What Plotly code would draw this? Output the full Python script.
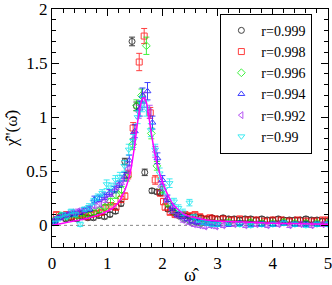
import plotly.graph_objects as go

# ---------------- data ----------------
fit_x = [0, 0.2, 0.4, 0.6, 0.8, 1.0, 1.1, 1.2, 1.3, 1.4, 1.45, 1.5, 1.55, 1.6, 1.65, 1.7, 1.75,
         1.8, 1.85, 1.9, 2.0, 2.1, 2.2, 2.3, 2.4, 2.6, 2.8, 3.0, 3.5, 4.0, 4.5, 5.0]
fit_y = [0, 0.02, 0.04, 0.06, 0.09, 0.13, 0.16, 0.21, 0.30, 0.45, 0.58, 0.75, 0.95, 1.10, 1.18,
         1.15, 1.02, 0.85, 0.70, 0.58, 0.40, 0.28, 0.19, 0.14, 0.10, 0.07, 0.05, 0.04, 0.03,
         0.02, 0.015, 0.01]

x_999 = [0.05, 0.15, 0.25, 0.35, 0.45, 0.55, 0.65, 0.75, 0.85, 0.95,
         1.05, 1.15, 1.25, 1.32, 1.45, 1.53, 1.68, 1.81, 1.90, 1.96,
         2.1, 2.2, 2.3, 2.4, 2.5, 2.6, 2.7, 2.8, 2.9, 3.0,
         3.1, 3.2, 3.3, 3.4, 3.5, 3.6, 3.7, 3.8, 3.9, 4.0,
         4.1, 4.2, 4.3, 4.4, 4.5, 4.6, 4.7, 4.8, 4.9, 5.0]
y_999 = [0.03, 0.08, 0.06, 0.07, 0.06, 0.08, 0.07, 0.07, 0.09, 0.08,
         0.10, 0.13, 0.20, 0.59, 1.70, 1.10, 0.49, 0.32, 0.31, 0.30,
         0.15, 0.12, 0.10, 0.09, 0.08, 0.08, 0.07, 0.06, 0.07, 0.06,
         0.07, 0.06, 0.06, 0.05, 0.06, 0.06, 0.05, 0.06, 0.05, 0.05,
         0.06, 0.05, 0.05, 0.05, 0.05, 0.06, 0.05, 0.05, 0.04, 0.04]
e_999 = [0.02, 0.02, 0.02, 0.02, 0.02, 0.02, 0.02, 0.02, 0.02, 0.02,
         0.02, 0.02, 0.02, 0.03, 0.04, 0.04, 0.03, 0.02, 0.02, 0.02,
         0.02, 0.02, 0.02, 0.02, 0.02, 0.02, 0.02, 0.02, 0.02, 0.02,
         0.02, 0.02, 0.02, 0.02, 0.02, 0.02, 0.02, 0.02, 0.02, 0.02,
         0.02, 0.02, 0.02, 0.02, 0.02, 0.02, 0.02, 0.02, 0.02, 0.02]

x_998 = [0.08, 0.17, 0.26, 0.35, 0.44, 0.53, 0.62, 0.71, 0.80, 0.89,
         0.98, 1.07, 1.16, 1.25, 1.32, 1.38, 1.47, 1.58, 1.67, 1.78,
         1.87, 1.96, 2.02, 2.05, 2.14, 2.23, 2.32, 2.41, 2.50, 2.59,
         2.68, 2.77, 2.86, 2.95, 3.1, 3.25, 3.4, 3.55, 3.7, 3.85,
         4.0, 4.15, 4.3, 4.45, 4.6, 4.75, 4.9, 5.0]
y_998 = [0.10, 0.09, 0.10, 0.08, 0.09, 0.10, 0.08, 0.10, 0.11, 0.12,
         0.16, 0.18, 0.17, 0.24, 0.27, 0.47, 0.90, 1.51, 1.75, 1.04,
         0.42, 0.30, 0.22, 0.17, 0.12, 0.10, 0.09, 0.10, 0.09, 0.10,
         0.08, 0.06, 0.07, 0.06, 0.06, 0.05, 0.06, 0.05, 0.05, 0.04,
         0.05, 0.05, 0.04, 0.05, 0.04, 0.04, 0.05, 0.05]
e_998 = [0.02, 0.02, 0.02, 0.02, 0.02, 0.02, 0.02, 0.02, 0.02, 0.02,
         0.03, 0.03, 0.03, 0.03, 0.03, 0.04, 0.05, 0.08, 0.07, 0.05,
         0.04, 0.03, 0.03, 0.03, 0.02, 0.02, 0.02, 0.02, 0.02, 0.02,
         0.02, 0.02, 0.02, 0.02, 0.02, 0.02, 0.02, 0.02, 0.02, 0.02,
         0.02, 0.02, 0.02, 0.02, 0.02, 0.02, 0.02, 0.02]

x_996 = [0.06, 0.16, 0.26, 0.36, 0.46, 0.56, 0.66, 0.76, 0.86, 0.96,
         1.06, 1.16, 1.26, 1.36, 1.46, 1.53, 1.62, 1.71, 1.80, 1.90,
         2.0, 2.1, 2.2, 2.3, 2.4, 2.5, 2.6, 2.7, 2.8, 2.9,
         3.0, 3.2, 3.4, 3.6, 3.8, 4.0, 4.2, 4.4, 4.6, 4.8, 5.0]
y_996 = [0.05, 0.09, 0.08, 0.10, 0.09, 0.11, 0.10, 0.12, 0.14, 0.17,
         0.22, 0.28, 0.33, 0.45, 0.75, 1.11, 1.20, 1.66, 0.85, 0.55,
         0.33, 0.20, 0.13, 0.09, 0.06, 0.04, 0.03, 0.02, 0.03, 0.02,
         0.02, 0.03, 0.02, 0.03, 0.02, 0.02, 0.03, 0.02, 0.02, 0.02, 0.02]
e_996 = [0.02, 0.02, 0.02, 0.02, 0.02, 0.02, 0.02, 0.02, 0.02, 0.02,
         0.03, 0.03, 0.03, 0.04, 0.05, 0.05, 0.06, 0.08, 0.05, 0.04,
         0.03, 0.02, 0.02, 0.02, 0.02, 0.02, 0.02, 0.02, 0.02, 0.02,
         0.02, 0.02, 0.02, 0.02, 0.02, 0.02, 0.02, 0.02, 0.02, 0.02, 0.02]

x_994 = [0.05, 0.14, 0.23, 0.32, 0.41, 0.50, 0.59, 0.68, 0.77, 0.86,
         0.95, 1.04, 1.13, 1.22, 1.31, 1.40, 1.50, 1.59, 1.64, 1.73,
         1.82, 1.91, 2.0, 2.09, 2.18, 2.27, 2.36, 2.45, 2.54, 2.63,
         2.72, 2.81, 2.9, 3.0, 3.2, 3.4, 3.6, 3.8, 4.0, 4.2,
         4.4, 4.6, 4.8, 5.0]
y_994 = [0.04, 0.07, 0.09, 0.10, 0.11, 0.12, 0.14, 0.15, 0.24, 0.25,
         0.27, 0.30, 0.33, 0.38, 0.45, 0.60, 0.87, 1.08, 1.20, 1.24,
         0.95, 0.62, 0.42, 0.25, 0.17, 0.10, 0.08, 0.06, 0.04, 0.03,
         0.03, 0.02, 0.02, 0.01, 0.01, 0.02, 0.01, 0.01, 0.01, 0.02,
         0.01, 0.01, 0.01, 0.01]
e_994 = [0.02, 0.02, 0.02, 0.02, 0.02, 0.02, 0.02, 0.02, 0.03, 0.03,
         0.03, 0.03, 0.03, 0.03, 0.04, 0.05, 0.06, 0.07, 0.07, 0.08,
         0.06, 0.05, 0.04, 0.03, 0.03, 0.02, 0.02, 0.02, 0.02, 0.02,
         0.02, 0.02, 0.02, 0.02, 0.02, 0.02, 0.02, 0.02, 0.02, 0.02,
         0.02, 0.02, 0.02, 0.02]

x_992 = [0.07, 0.17, 0.27, 0.37, 0.47, 0.57, 0.67, 0.77, 0.87, 0.97,
         1.07, 1.17, 1.27, 1.37, 1.47, 1.57, 1.67, 1.77, 1.87, 1.97,
         2.07, 2.17, 2.27, 2.37, 2.47, 2.57, 2.67, 2.77, 2.87, 2.97,
         3.1, 3.3, 3.5, 3.7, 3.9, 4.1, 4.3, 4.5, 4.7, 4.9, 5.0]
y_992 = [0.06, 0.08, 0.10, 0.12, 0.13, 0.14, 0.16, 0.18, 0.20, 0.24,
         0.30, 0.36, 0.42, 0.52, 0.80, 1.05, 1.16, 1.05, 0.68, 0.36,
         0.24, 0.14, 0.09, 0.05, 0.03, 0.01, 0.00, -0.01, 0.00, -0.01,
         0.00, 0.01, 0.00, 0.01, 0.00, 0.01, 0.00, 0.01, 0.00, 0.01, 0.01]
e_992 = [0.02, 0.02, 0.02, 0.02, 0.02, 0.02, 0.02, 0.02, 0.03, 0.03,
         0.03, 0.03, 0.04, 0.04, 0.05, 0.06, 0.07, 0.06, 0.05, 0.04,
         0.03, 0.03, 0.02, 0.02, 0.02, 0.02, 0.02, 0.02, 0.02, 0.02,
         0.02, 0.02, 0.02, 0.02, 0.02, 0.02, 0.02, 0.02, 0.02, 0.02, 0.02]

x_990 = [0.03, 0.11, 0.19, 0.27, 0.35, 0.43, 0.51, 0.59, 0.67, 0.75,
         0.83, 0.91, 0.99, 1.07, 1.15, 1.23, 1.31, 1.39, 1.47, 1.55,
         1.63, 1.71, 1.79, 1.87, 1.95, 2.03, 2.13, 2.21, 2.29, 2.37,
         2.49, 2.57, 2.65, 2.73, 2.81, 2.9, 3.0, 3.2, 3.4, 3.6,
         3.8, 4.0, 4.2, 4.4, 4.6, 4.8, 5.0]
y_990 = [0.02, 0.06, 0.10, 0.08, 0.13, 0.10, 0.01, 0.15, 0.17, 0.22,
         0.26, 0.30, 0.38, 0.35, 0.42, 0.45, 0.55, 0.70, 0.78, 1.00,
         1.12, 1.08, 0.88, 0.70, 0.48, 0.33, 0.39, 0.22, 0.16, 0.12,
         0.21, 0.08, 0.05, 0.03, 0.02, 0.01, 0.01, 0.02, 0.01, 0.00,
         0.01, 0.01, 0.02, 0.01, 0.00, 0.01, 0.01]
e_990 = [0.02, 0.02, 0.02, 0.02, 0.02, 0.02, 0.02, 0.02, 0.03, 0.03,
         0.03, 0.03, 0.04, 0.04, 0.04, 0.04, 0.05, 0.05, 0.06, 0.06,
         0.07, 0.07, 0.06, 0.05, 0.05, 0.04, 0.04, 0.03, 0.03, 0.03,
         0.03, 0.02, 0.02, 0.02, 0.02, 0.02, 0.02, 0.02, 0.02, 0.02,
         0.02, 0.02, 0.02, 0.02, 0.02, 0.02, 0.02]

zero_x = [0, 5]
zero_y = [0, 0]

series = [
    ("r=0.999", x_999, y_999, e_999, "circle-open", "#000000"),
    ("r=0.998", x_998, y_998, e_998, "square-open", "#ff0000"),
    ("r=0.996", x_996, y_996, e_996, "diamond-open", "#00ee00"),
    ("r=0.994", x_994, y_994, e_994, "triangle-up-open", "#0000ff"),
    ("r=0.992", x_992, y_992, e_992, "triangle-left-open", "#a020f0"),
    ("r=0.99", x_990, y_990, e_990, "triangle-down-open", "#00e5ee"),
]

FONT = "Liberation Serif"

fig = go.Figure()
fig.add_trace(go.Scatter(x=zero_x, y=zero_y, mode="lines",
                         line=dict(color="#888888", width=1, dash="3px,3px"),
                         showlegend=False, hoverinfo="skip"))

for name, xs, ys, es, sym, col in series:
    fig.add_trace(go.Scatter(
        x=xs, y=ys, mode="markers", name=name,
        marker=dict(symbol=sym, size=6, color=col, line=dict(width=1, color=col)),
        error_y=dict(type="data", array=es, visible=True, color=col, thickness=1, width=3),
        opacity=0.75,
    ))

fig.add_trace(go.Scatter(x=fit_x, y=fit_y, mode="lines", line=dict(color="#ff00ff", width=1.5, shape="spline"),
                         showlegend=False, hoverinfo="skip"))

axis_common = dict(
    showline=True, linecolor="black", linewidth=1.2, mirror="ticks",
    ticks="inside", ticklen=7, tickwidth=1, tickcolor="black",
    showgrid=False, zeroline=False, ticklabeloverflow="allow",
    tickfont=dict(family=FONT, size=17, color="black"),
)

fig.update_xaxes(range=[0, 5], dtick=1, tick0=0,
                 minor=dict(ticks="inside", dtick=0.2, ticklen=4, tickcolor="black", showgrid=False),
                 title=dict(text="\u03c9\u0302", font=dict(family=FONT, size=18, color="black"), standoff=2),
                 **axis_common)
fig.update_yaxes(range=[-0.2, 2], tickvals=[0, 0.5, 1, 1.5, 2], ticktext=["0", "0.5", "1", "1.5", "2"],
                 minor=dict(ticks="inside", dtick=0.1, tick0=0, ticklen=4, tickcolor="black", showgrid=False),
                 title=dict(text="\u03c7\u0302''(\u03c9\u0302)", font=dict(family=FONT, size=17, color="black"), standoff=4),
                 **axis_common)

fig.update_layout(
    width=332, height=285,
    margin=dict(l=52, r=4, t=9, b=38, autoexpand=False),
    paper_bgcolor="white", plot_bgcolor="white",
    font=dict(family=FONT, color="black"),
    legend=dict(x=0.61, y=0.98, xanchor="left", yanchor="top",
                bgcolor="white", bordercolor="black", borderwidth=1,
                font=dict(family=FONT, size=14, color="black"),
                itemwidth=30, tracegroupgap=0),
    showlegend=True,
)

fig.write_html("out.html", config={"displayModeBar": False},
               post_script="document.body.style.margin='0px';")
